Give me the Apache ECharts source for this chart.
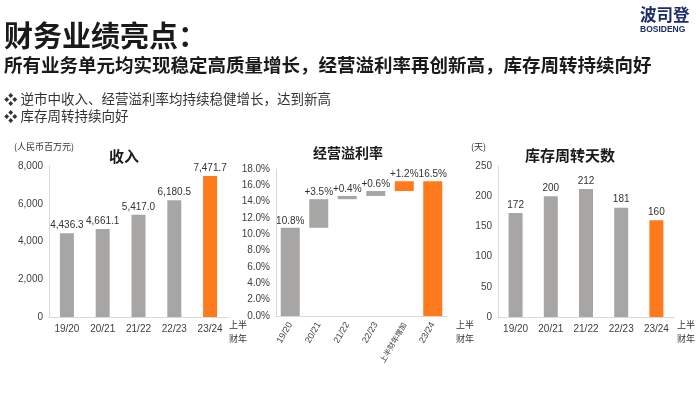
<!DOCTYPE html>
<html>
<head>
<meta charset="utf-8">
<script src="https://cdn.jsdelivr.net/npm/echarts@6/dist/echarts.min.js"></script>
<style>
  html, body { margin: 0; padding: 0; background: #fff; }
  #main { width: 700px; height: 393px; }
</style>
</head>
<body>
<div id="main"></div>
<script>
// data
var years = ['19/20', '20/21', '21/22', '22/23', '23/24'];
var revenue = [4436.3, 4661.1, 5417.0, 6180.5, 7471.7];
var marginCats = ['19/20', '20/21', '21/22', '22/23', '上半财年增加', '23/24'];
var marginSteps = [10.8, 3.5, 0.4, 0.6, 1.2, 16.5];
var turnoverDays = [172, 200, 212, 181, 160];

var GREY = '#a8a5a5';
var ORANGE = '#ff7a1c';
var AXIS = '#d9d9d9';
var TXT = '#404040';
var FONT = '"Liberation Sans", Arial, sans-serif';
var CJK = '"Noto Sans CJK SC", sans-serif';

// waterfall base, built from the steps
var marginBase = [], marginVals = [], run = 0;
for (var i = 0; i < marginSteps.length; i++) {
    if (i == 0 || i == marginSteps.length - 1) {
        marginBase.push(0);
        marginVals.push(marginSteps[i]);
        run = marginSteps[i];
    } else {
        marginBase.push(run);
        marginVals.push(marginSteps[i]);
        run = +(run + marginSteps[i]).toFixed(1);
    }
}

function colorLast(arr) {
    return arr.map(function (v, i) {
        return { value: v, itemStyle: { color: i == arr.length - 1 ? ORANGE : GREY } };
    });
}

function xAxisBase(grid, data, rotate) {
    return {
        type: 'category', gridIndex: grid, data: data,
        axisLine: { lineStyle: { color: AXIS } },
        axisTick: { show: false },
        axisLabel: {
            color: TXT, fontFamily: FONT, fontSize: rotate ? 9 : 10, interval: 0, rotate: rotate || 0, margin: 7,
            rich: { s: { fontSize: 7.5, fontFamily: CJK, color: TXT } },
            formatter: function (v) { return /[^\x00-\x7f]/.test(v) ? '{s|' + v + '}' : v; }
        }
    };
}
function yAxisBase(grid, max, interval, fmt) {
    return {
        type: 'value', gridIndex: grid, min: 0, max: max, interval: interval,
        axisLine: { show: true, lineStyle: { color: AXIS } },
        axisTick: { show: false },
        splitLine: { show: false },
        axisLabel: { color: TXT, fontFamily: FONT, fontSize: 10, formatter: fmt, margin: 6 }
    };
}

function txt(x, y, text, size, opts) {
    opts = opts || {};
    return {
        type: 'text', left: x, top: y,
        style: {
            text: text, fontSize: size, fontFamily: opts.font || CJK,
            fontWeight: opts.weight || 'normal', fill: opts.color || '#1a1a1a',
            lineHeight: opts.lineHeight
        }
    };
}

var chart = echarts.init(document.getElementById('main'));
var option = {
    animation: false,
    grid: [
        { left: 49, top: 166, width: 179, height: 151, outerBoundsMode: 'none' },
        { left: 276, top: 169, width: 171, height: 147, outerBoundsMode: 'none' },
        { left: 498, top: 166, width: 176, height: 151, outerBoundsMode: 'none' }
    ],
    xAxis: [
        xAxisBase(0, years),
        xAxisBase(1, marginCats, 60),
        xAxisBase(2, years)
    ],
    yAxis: [
        yAxisBase(0, 8000, 2000, function (v) { return v.toLocaleString('en-US'); }),
        yAxisBase(1, 18, 2, function (v) { return v.toFixed(1) + '%'; }),
        yAxisBase(2, 250, 50)
    ],
    series: [
        {
            type: 'bar', xAxisIndex: 0, yAxisIndex: 0, barWidth: 14,
            data: colorLast(revenue),
            label: {
                show: true, position: 'top', color: '#333', fontFamily: FONT, fontSize: 10, distance: 3,
                formatter: function (p) {
                    return p.value.toLocaleString('en-US', { minimumFractionDigits: 1, maximumFractionDigits: 1 });
                }
            }
        },
        {
            type: 'bar', xAxisIndex: 1, yAxisIndex: 1, stack: 'm', barWidth: 19,
            data: marginBase, itemStyle: { color: 'transparent' }, silent: true
        },
        {
            type: 'bar', xAxisIndex: 1, yAxisIndex: 1, stack: 'm', barWidth: 19,
            data: marginVals.map(function (v, i) {
                return { value: v, itemStyle: { color: i >= marginVals.length - 2 ? ORANGE : GREY } };
            }),
            label: {
                show: true, position: 'top', color: '#333', fontFamily: FONT, fontSize: 10, distance: 2,
                formatter: function (p) {
                    var last = p.dataIndex == 0 || p.dataIndex == marginVals.length - 1;
                    return (last ? '' : '+') + p.value.toFixed(1) + '%';
                }
            }
        },
        {
            type: 'bar', xAxisIndex: 2, yAxisIndex: 2, barWidth: 14,
            data: colorLast(turnoverDays),
            label: { show: true, position: 'top', color: '#333', fontFamily: FONT, fontSize: 10, distance: 3 }
        }
    ],
    graphic: [
        txt(4, 21, '财务业绩亮点：', 29, { weight: 'bold' }),
        txt(4, 56, '所有业务单元均实现稳定高质量增长，经营溢利率再创新高，库存周转持续向好', 18.5, { weight: 'bold' }),
        txt(4, 92, '❖ 逆市中收入、经营溢利率均持续稳健增长，达到新高', 13.5, { color: '#333' }),
        txt(4, 109, '❖ 库存周转持续向好', 13.5, { color: '#333' }),
        txt(640, 6, '波司登', 16.5, { weight: 'bold', color: '#1d2d6b' }),
        txt(640, 25, 'BOSIDENG', 8.5, { weight: 'bold', color: '#1d2d6b', font: FONT }),
        txt(14, 142, '(人民币百万元)', 9, { color: '#333' }),
        txt(109, 149, '收入', 15, { weight: 'bold' }),
        txt(313, 146, '经营溢利率', 14, { weight: 'bold' }),
        txt(525, 148, '库存周转天数', 15, { weight: 'bold' }),
        txt(471, 142, '(天)', 9, { color: '#333' }),
        txt(229, 318, '上半\n财年', 9, { color: '#333', lineHeight: 14 }),
        txt(456, 318, '上半\n财年', 9, { color: '#333', lineHeight: 14 }),
        txt(677, 318, '上半\n财年', 9, { color: '#333', lineHeight: 14 })
    ]
};
chart.setOption(option);
</script>
</body>
</html>
